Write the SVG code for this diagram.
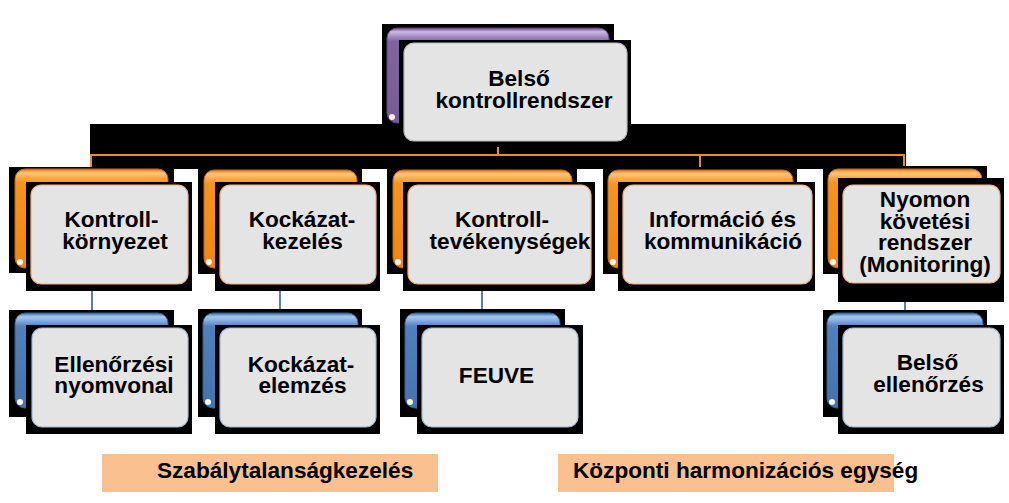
<svg xmlns="http://www.w3.org/2000/svg" width="1009" height="503" viewBox="0 0 1009 503">
<defs>
<linearGradient id="gOr" x1="0" y1="0" x2="0" y2="1">
<stop offset="0" stop-color="#E07A10"/><stop offset="0.04" stop-color="#FFC580"/><stop offset="0.09" stop-color="#FDA845"/><stop offset="0.14" stop-color="#F7941D"/><stop offset="1" stop-color="#EE8612"/>
</linearGradient>
<linearGradient id="gBl" x1="0" y1="0" x2="0" y2="1">
<stop offset="0" stop-color="#3F6FAA"/><stop offset="0.04" stop-color="#A9C8EE"/><stop offset="0.09" stop-color="#7CA6DA"/><stop offset="0.14" stop-color="#4F81BD"/><stop offset="1" stop-color="#4474B0"/>
</linearGradient>
<linearGradient id="gPu" x1="0" y1="0" x2="0" y2="1">
<stop offset="0" stop-color="#6A4F8C"/><stop offset="0.04" stop-color="#CBB9E2"/><stop offset="0.09" stop-color="#A48CC4"/><stop offset="0.14" stop-color="#8064A2"/><stop offset="1" stop-color="#775B99"/>
</linearGradient>
</defs>
<style>
.blk{fill:#000}
.or{fill:url(#gOr);stroke:#C9690A;stroke-width:1}
.bl{fill:url(#gBl);stroke:#345E94;stroke-width:1}
.pu{fill:url(#gPu);stroke:#5E4680;stroke-width:1}
.fr{fill:#E4E4E4;stroke:#F2B27A;stroke-width:1.2}
.frb{fill:#E4E4E4;stroke:#A8B8CC;stroke-width:1.2}
.frp{fill:#E4E4E4;stroke:#BBBBBB;stroke-width:1.2}
.dot{fill:#FFF4E6}
.t{font-family:"Liberation Sans",Arial,sans-serif;font-weight:bold;font-size:22.6px;fill:#000;text-anchor:middle}
.tl{font-family:"Liberation Sans",Arial,sans-serif;font-weight:bold;font-size:22.6px;fill:#000}
.oc{fill:none;stroke:#F08A30;stroke-width:2}
.bc{fill:none;stroke:#5C7FAA;stroke-width:2}
.lab{fill:#FAC090}
</style>
<rect width="1009" height="503" fill="#FFFFFF"/>

<g id="band">
<rect class="blk" x="90" y="124" width="816" height="45"/>
</g>

<g id="connectors">
<polyline class="oc" points="91,167 91,155 904,155 904,166"/>
<line class="oc" x1="498" y1="147" x2="498" y2="155"/>
<line class="oc" x1="700" y1="155" x2="700" y2="167"/>
<line class="bc" x1="92" y1="291" x2="92" y2="310"/>
<line class="bc" x1="280" y1="291" x2="280" y2="309"/>
<line class="bc" x1="482" y1="291" x2="482" y2="309"/>
<line class="bc" x1="905" y1="302" x2="905" y2="310"/>
</g>

<g id="n0">
<rect class="blk" x="382" y="24" width="232" height="100"/>
<rect class="pu" x="387" y="28" width="222" height="95" rx="10"/>
<circle class="dot" cx="392" cy="117" r="3"/>
<rect class="blk" x="399" y="40" width="232" height="105"/>
<rect class="frp" x="404" y="43" width="223" height="98" rx="10"/>
<text class="t"><tspan x="519" y="86">Belső</tspan><tspan x="524" y="108">kontrollrendszer</tspan></text>
</g>

<g id="n1">
<rect class="blk" x="9" y="167" width="165" height="106"/>
<rect class="or" x="15" y="169" width="153" height="99" rx="10"/>
<circle class="dot" cx="20" cy="262" r="3"/>
<rect class="blk" x="26" y="182" width="166" height="109"/>
<rect class="fr" x="31" y="185" width="157" height="99" rx="10"/>
<text class="t"><tspan x="111.5" y="227">Kontroll-</tspan><tspan x="115" y="249">környezet</tspan></text>
</g>

<g id="n2">
<rect class="blk" x="198" y="167" width="164" height="107"/>
<rect class="or" x="204" y="170" width="153" height="98" rx="10"/>
<circle class="dot" cx="209" cy="262" r="3"/>
<rect class="blk" x="215" y="182" width="165" height="109"/>
<rect class="fr" x="220" y="185" width="156" height="99" rx="10"/>
<text class="t"><tspan x="302" y="227">Kockázat-</tspan><tspan x="302.5" y="249">kezelés</tspan></text>
</g>

<g id="n3">
<rect class="blk" x="387" y="167" width="190" height="107"/>
<rect class="or" x="393" y="170" width="179" height="98" rx="10"/>
<circle class="dot" cx="398" cy="262" r="3"/>
<rect class="blk" x="403" y="182" width="192" height="109"/>
<rect class="fr" x="408" y="185" width="183" height="99" rx="10"/>
<text class="t"><tspan x="502" y="227">Kontroll-</tspan><tspan x="510" y="249">tevékenységek</tspan></text>
</g>

<g id="n4">
<rect class="blk" x="603" y="167" width="194" height="107"/>
<rect class="or" x="608" y="170" width="185" height="98" rx="10"/>
<circle class="dot" cx="613" cy="262" r="3"/>
<rect class="blk" x="618" y="182" width="197" height="109"/>
<rect class="fr" x="623" y="185" width="189" height="99" rx="10"/>
<text class="t"><tspan x="722.5" y="227">Információ és</tspan><tspan x="723" y="249">kommunikáció</tspan></text>
</g>

<g id="n5">
<rect class="blk" x="823" y="166" width="164" height="108"/>
<rect class="or" x="828" y="169" width="154" height="99" rx="10"/>
<circle class="dot" cx="833" cy="262" r="3"/>
<rect class="blk" x="838" y="178" width="166" height="124"/>
<rect class="fr" x="843" y="185" width="157" height="98" rx="10"/>
<text class="t"><tspan x="925" y="207">Nyomon</tspan><tspan x="925" y="228.5">követési</tspan><tspan x="925" y="250">rendszer</tspan><tspan x="925" y="271.5">(Monitoring)</tspan></text>
</g>

<g id="c1">
<rect class="blk" x="9" y="310" width="165" height="107"/>
<rect class="bl" x="15" y="313" width="153" height="95" rx="10"/>
<circle class="dot" cx="20" cy="402" r="3"/>
<rect class="blk" x="26" y="325" width="166" height="109"/>
<rect class="frb" x="32" y="328" width="156" height="99" rx="10"/>
<text class="t"><tspan x="114" y="372">Ellenőrzési</tspan><tspan x="114" y="393">nyomvonal</tspan></text>
</g>

<g id="c2">
<rect class="blk" x="198" y="309" width="164" height="108"/>
<rect class="bl" x="203" y="313" width="155" height="95" rx="10"/>
<circle class="dot" cx="208" cy="402" r="3"/>
<rect class="blk" x="215" y="325" width="165" height="109"/>
<rect class="frb" x="220" y="328" width="156" height="99" rx="10"/>
<text class="t"><tspan x="301" y="372">Kockázat-</tspan><tspan x="302.5" y="393">elemzés</tspan></text>
</g>

<g id="c3">
<rect class="blk" x="400" y="309" width="165" height="108"/>
<rect class="bl" x="405" y="313" width="155" height="95" rx="10"/>
<circle class="dot" cx="410" cy="402" r="3"/>
<rect class="blk" x="417" y="325" width="166" height="109"/>
<rect class="frb" x="422" y="328" width="156" height="99" rx="10"/>
<text class="t" x="496.5" y="383">FEUVE</text>
</g>

<g id="c5">
<rect class="blk" x="823" y="310" width="164" height="107"/>
<rect class="bl" x="827" y="313" width="156" height="95" rx="10"/>
<circle class="dot" cx="832" cy="402" r="3"/>
<rect class="blk" x="838" y="325" width="166" height="109"/>
<rect class="frb" x="843" y="328" width="157" height="99" rx="10"/>
<text class="t"><tspan x="927.5" y="369.5">Belső</tspan><tspan x="928.5" y="392">ellenőrzés</tspan></text>
</g>

<g id="lab1">
<rect class="lab" x="102" y="454" width="336" height="38"/>
<text class="tl" x="157" y="478">Szabálytalanságkezelés</text>
</g>

<g id="lab2">
<rect class="lab" x="558" y="454" width="336" height="38"/>
<text class="tl" x="573" y="478">Központi harmonizációs egység</text>
</g>
</svg>
